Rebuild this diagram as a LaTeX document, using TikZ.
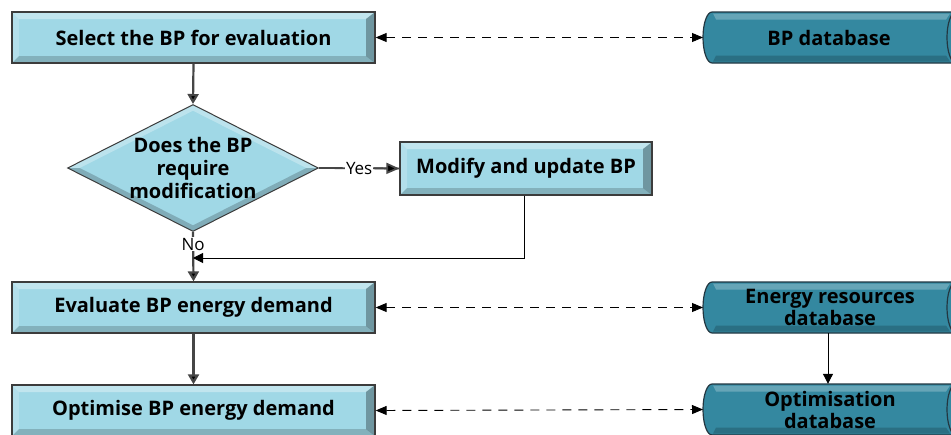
\documentclass[tikz,border=0pt]{standalone}
\usepackage{fontspec}
\setmainfont{Open Sans}
\usetikzlibrary{shapes.geometric,arrows.meta}
\definecolor{boxfill}{RGB}{160,216,230}
\definecolor{boxline}{RGB}{60,60,60}
\definecolor{dbfill}{RGB}{52,136,160}
\definecolor{dbline}{RGB}{35,55,65}
\definecolor{flowgray}{RGB}{70,70,70}
\newcommand\dbcyl[1]{%
  \fill[dbfill] (712,#1-25.5) -- (956,#1-25.5) arc[start angle=-90,end angle=90,x radius=9,y radius=25.5]
    -- (712,#1+25.5) arc[start angle=90,end angle=270,x radius=9,y radius=25.5] -- cycle;
  \fill[white,opacity=0.25] (713,#1-24) -- (950,#1-24) -- (946,#1-18) -- (716,#1-18) -- cycle;
  \fill[black,opacity=0.18] (713,#1+24) -- (950,#1+24) -- (946,#1+18) -- (716,#1+18) -- cycle;
  \draw[dbline,line width=1.2pt] (712,#1-25.5) -- (956,#1-25.5) arc[start angle=-90,end angle=90,x radius=9,y radius=25.5]
    -- (712,#1+25.5) arc[start angle=90,end angle=270,x radius=9,y radius=25.5] -- cycle;
  \draw[dbline,line width=1.2pt] (956,#1) ellipse [x radius=9,y radius=25.5];
}
\tikzset{
  bevelbox/.style={
    path picture={
      \fill[white,opacity=0.35] (path picture bounding box.north west) -- (path picture bounding box.north east)
        -- ([xshift=-9pt,yshift=-7pt]path picture bounding box.north east) -- ([xshift=7pt,yshift=-7pt]path picture bounding box.north west) -- cycle;
      \fill[white,opacity=0.2] (path picture bounding box.north west) -- ([xshift=7pt,yshift=-7pt]path picture bounding box.north west)
        -- ([xshift=7pt,yshift=7pt]path picture bounding box.south west) -- (path picture bounding box.south west) -- cycle;
      \fill[black,opacity=0.3] (path picture bounding box.north east) -- (path picture bounding box.south east)
        -- ([xshift=-9pt,yshift=7pt]path picture bounding box.south east) -- ([xshift=-9pt,yshift=-7pt]path picture bounding box.north east) -- cycle;
      \fill[black,opacity=0.18] (path picture bounding box.south west) -- (path picture bounding box.south east)
        -- ([xshift=-9pt,yshift=7pt]path picture bounding box.south east) -- ([xshift=7pt,yshift=7pt]path picture bounding box.south west) -- cycle;
    }},
  bevelgem/.style={
    path picture={
      \fill[white,opacity=0.3] (path picture bounding box.west) -- (path picture bounding box.north) -- (path picture bounding box.east)
        -- ([xshift=-12pt]path picture bounding box.east) -- ([yshift=-6pt]path picture bounding box.north) -- ([xshift=12pt]path picture bounding box.west) -- cycle;
      \fill[black,opacity=0.2] (path picture bounding box.west) -- (path picture bounding box.south) -- (path picture bounding box.east)
        -- ([xshift=-12pt]path picture bounding box.east) -- ([yshift=6pt]path picture bounding box.south) -- ([xshift=12pt]path picture bounding box.west) -- cycle;
    }},
  procbox/.style={rectangle, draw=boxline, line width=1.3pt, fill=boxfill, inner sep=0pt,
    minimum width=363pt, minimum height=51pt, font=\bfseries\fontsize{20}{22}\selectfont, bevelbox},
  decbox/.style={diamond, draw=boxline, line width=1pt, fill=boxfill, inner sep=0pt, aspect=2,
    minimum width=251pt, minimum height=127pt, align=center, font=\bfseries\fontsize{20}{23}\selectfont, bevelgem},
  dbbox/.style={rectangle, draw=none, minimum width=262pt, minimum height=51pt, inner sep=0pt, align=center,
    font=\bfseries\fontsize{20}{22}\selectfont},
  flow/.style={draw=flowgray, line width=2.2pt, -{Triangle[length=10pt,width=11pt,fill=black]}},
  thinflow/.style={draw=black, line width=1pt, -{Triangle[length=10pt,width=10pt]}},
  dashflow/.style={draw=black, line width=0.9pt, dash pattern=on 9pt off 7pt,
    {Triangle[length=11pt,width=9pt]}-{Triangle[length=11pt,width=9pt]}},
  lbl/.style={fill=white, inner sep=1pt, font=\fontsize{17}{19}\selectfont}
}
\begin{document}
\begin{tikzpicture}[x=1pt,y=-1pt]
\useasboundingbox[fill=white] (0,0) rectangle (951,434);
\dbcyl{37.5}
\dbcyl{307.5}
\dbcyl{409.5}
\node[procbox] (sel) at (193.5,37.5) {Select the BP for evaluation};
\node[dbbox] (bpdb) at (829,37.5) {BP database};
\node[decbox] (dec) at (193,168) {Does the BP\\require\\modification};
\node[procbox, minimum width=252pt, minimum height=53pt] (mod) at (526,168.5) {Modify and update BP};
\node[procbox] (eval) at (193.5,307.5) {Evaluate BP energy demand};
\node[dbbox] (endb) at (830,307.5) {Energy resources\\database};
\node[procbox] (opt) at (193.5,410.5) {Optimise BP energy demand};
\node[dbbox] (optdb) at (830,409.5) {Optimisation\\database};
\coordinate (join) at (193,258);
\coordinate (turn) at (524,258);

\draw[flow] (sel.south) -- (dec.north);
\draw[draw=flowgray, line width=1.8pt] (dec.east) -- node[lbl, pos=0.5] (yes) {Yes} (mod.west);
\draw[draw=flowgray, line width=1.8pt, -{Triangle[length=13pt,width=11pt,fill=black]}] (yes.east) -- (mod.west);
\draw[flow] (dec.south) -- node[lbl, pos=0.25] (no) {No} (eval.north);
\draw[thinflow] (mod.south -| turn) -- (turn) -- (join);
\draw[flow] (eval.south) -- (opt.north);
\draw[thinflow] ([xshift=-2pt]endb.south) -- ([xshift=-2pt]optdb.north);
\draw[dashflow] (sel.east) -- ([xshift=-126pt]bpdb.center);
\draw[dashflow] (eval.east) -- ([xshift=-127pt]endb.center);
\draw[dashflow] (opt.east) -- ([xshift=-127pt]optdb.center);
\end{tikzpicture}
\end{document}
